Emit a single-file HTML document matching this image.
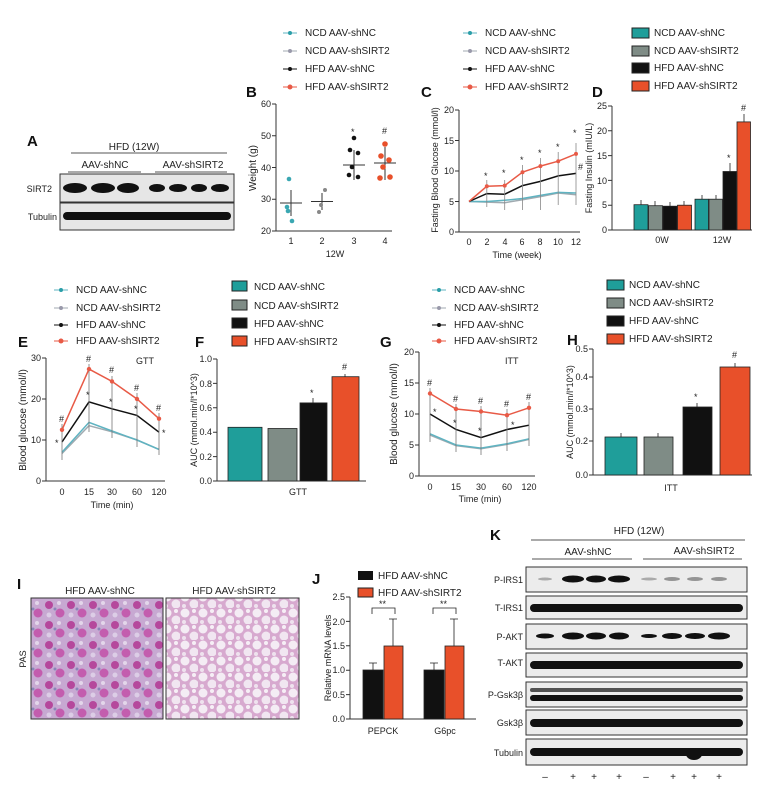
<!DOCTYPE html>
<html><head><meta charset="utf-8"><style>
html,body{margin:0;padding:0;background:#fff}
svg{display:block}
text{font-family:"Liberation Sans",sans-serif;fill:#222}
.t{font-size:10px}
.s{font-size:9px}
.L{font-size:15px;font-weight:bold;fill:#111}
.ax{stroke:#333;stroke-width:1;fill:none}
</style></head><body>
<svg width="764" height="791" viewBox="0 0 764 791" xmlns="http://www.w3.org/2000/svg">
<defs>
<pattern id="hl" width="22" height="20" patternUnits="userSpaceOnUse">
<rect width="22" height="20" fill="#c7a9d2"/>
<circle cx="5" cy="5" r="4" fill="#b0308f" opacity=".8"/><circle cx="16" cy="13" r="4.5" fill="#c24aa5" opacity=".8"/>
<circle cx="15" cy="3" r="2" fill="#e3d6ea"/><circle cx="5" cy="15" r="2.5" fill="#dccde6"/><circle cx="11" cy="9" r="1.5" fill="#8a86b8"/>
</pattern>
<pattern id="hr" width="18" height="16" patternUnits="userSpaceOnUse">
<rect width="18" height="16" fill="#d7a9cf"/>
<circle cx="5" cy="5" r="4.5" fill="#f4ecf4"/><circle cx="14" cy="12" r="4.5" fill="#f1e6f1"/><circle cx="14" cy="3" r="2" fill="#f6eff6"/><circle cx="4" cy="14" r="2" fill="#efe2ee"/>
</pattern>
</defs>

<!-- A -->
<text x="27" y="146" class="L">A</text>
<text x="134" y="150" class="t" text-anchor="middle">HFD (12W)</text>
<line x1="71" y1="153" x2="227" y2="153" stroke="#555"/>
<text x="105" y="168" class="t" text-anchor="middle">AAV-shNC</text>
<text x="193" y="168" class="t" text-anchor="middle">AAV-shSIRT2</text>
<line x1="68" y1="172" x2="141" y2="172" stroke="#555"/><line x1="155" y1="172" x2="227" y2="172" stroke="#555"/>
<rect x="60" y="174" width="174" height="28" fill="#e6e6e6" stroke="#333"/>
<rect x="60" y="203" width="174" height="27" fill="#e6e6e6" stroke="#333"/>
<g fill="#111">
<ellipse cx="75" cy="188" rx="12" ry="5"/><ellipse cx="103" cy="188" rx="12" ry="5"/><ellipse cx="128" cy="188" rx="11" ry="5"/>
<ellipse cx="157" cy="188" rx="8" ry="4"/><ellipse cx="178" cy="188" rx="9" ry="4"/><ellipse cx="199" cy="188" rx="8" ry="4"/><ellipse cx="220" cy="188" rx="9" ry="4"/>
<rect x="63" y="212" width="168" height="8" rx="4"/>
</g>
<text x="52" y="192" class="s" text-anchor="end">SIRT2</text>
<text x="57" y="220" class="s" text-anchor="end">Tubulin</text>

<!-- B legend -->
<text x="246" y="97" class="L">B</text>
<g class="t">
<line x1="283" y1="33" x2="297" y2="33" stroke="#5fb3c1"/><circle cx="290" cy="33" r="2" fill="#2a9ea8"/><text x="305" y="36">NCD AAV-shNC</text>
<line x1="283" y1="51" x2="297" y2="51" stroke="#a0aab0"/><circle cx="290" cy="51" r="2" fill="#99a"/><text x="305" y="54">NCD AAV-shSIRT2</text>
<line x1="283" y1="69" x2="297" y2="69" stroke="#111"/><circle cx="290" cy="69" r="2" fill="#111"/><text x="305" y="72">HFD AAV-shNC</text>
<line x1="283" y1="87" x2="297" y2="87" stroke="#e85a46"/><circle cx="290" cy="87" r="2.5" fill="#e85a46"/><text x="305" y="90">HFD AAV-shSIRT2</text>
</g>
<path class="ax" d="M276,104 V231 M272,104 H276 M272,135.75 H276 M272,167.5 H276 M272,199.25 H276 M272,231 H276 M276,231 H392"/>
<g class="s" text-anchor="end"><text x="271" y="107">60</text><text x="271" y="139">50</text><text x="271" y="171">40</text><text x="271" y="202">30</text><text x="271" y="234">20</text></g>
<text transform="translate(256,168) rotate(-90)" class="t" text-anchor="middle">Weight (g)</text>
<g class="s" text-anchor="middle"><text x="291" y="244">1</text><text x="322" y="244">2</text><text x="354" y="244">3</text><text x="385" y="244">4</text><text x="335" y="257">12W</text></g>
<g stroke="#333"><line x1="280" y1="203" x2="302" y2="203"/><line x1="291" y1="190" x2="291" y2="216"/><line x1="311" y1="201.5" x2="333" y2="201.5"/><line x1="322" y1="193" x2="322" y2="210"/><line x1="343" y1="165" x2="365" y2="165"/><line x1="354" y1="150" x2="354" y2="180"/><line x1="374" y1="163" x2="396" y2="163"/><line x1="385" y1="147" x2="385" y2="180"/></g>
<g fill="#3aa7b2"><circle cx="289" cy="179" r="2.3"/><circle cx="287" cy="207" r="2.3"/><circle cx="292" cy="221" r="2.3"/><circle cx="288" cy="211" r="2.3"/></g>
<g fill="#888"><circle cx="325" cy="190" r="2"/><circle cx="321" cy="205" r="2"/><circle cx="319" cy="212" r="2"/></g>
<g fill="#111"><circle cx="354" cy="138" r="2.3"/><circle cx="350" cy="150" r="2.3"/><circle cx="358" cy="153" r="2.3"/><circle cx="352" cy="167" r="2.3"/><circle cx="349" cy="175" r="2.3"/><circle cx="358" cy="177" r="2.3"/></g>
<g fill="#e8502a"><circle cx="385" cy="144" r="2.8"/><circle cx="381" cy="156" r="2.8"/><circle cx="389" cy="160" r="2.8"/><circle cx="383" cy="167" r="2.8"/><circle cx="380" cy="178" r="2.8"/><circle cx="390" cy="177" r="2.8"/></g>
<text x="351" y="135" class="s">*</text><text x="382" y="134" class="s">#</text>

<!-- C -->
<text x="421" y="97" class="L">C</text>
<g class="t">
<line x1="463" y1="33" x2="477" y2="33" stroke="#5fb3c1"/><circle cx="470" cy="33" r="2" fill="#2a9ea8"/><text x="485" y="36">NCD AAV-shNC</text>
<line x1="463" y1="51" x2="477" y2="51" stroke="#a0aab0"/><circle cx="470" cy="51" r="2" fill="#99a"/><text x="485" y="54">NCD AAV-shSIRT2</text>
<line x1="463" y1="69" x2="477" y2="69" stroke="#111"/><circle cx="470" cy="69" r="2" fill="#111"/><text x="485" y="72">HFD AAV-shNC</text>
<line x1="463" y1="87" x2="477" y2="87" stroke="#e85a46"/><circle cx="470" cy="87" r="2.5" fill="#e85a46"/><text x="485" y="90">HFD AAV-shSIRT2</text>
</g>
<path class="ax" d="M459,110 V232 M455,110 H459 M455,140.5 H459 M455,171 H459 M455,201.5 H459 M455,232 H459 M459,232 H580"/>
<g class="s" text-anchor="end"><text x="454" y="113">20</text><text x="454" y="144">15</text><text x="454" y="174">10</text><text x="454" y="205">5</text><text x="454" y="235">0</text></g>
<text transform="translate(438,170) rotate(-90)" class="s" text-anchor="middle">Fasting Blood Glucose (mmol/l)</text>
<g class="s" text-anchor="middle"><text x="469" y="245">0</text><text x="487" y="245">2</text><text x="505" y="245">4</text><text x="522" y="245">6</text><text x="540" y="245">8</text><text x="558" y="245">10</text><text x="576" y="245">12</text><text x="517" y="258">Time (week)</text></g>
<g fill="none" stroke-width="1.5">
<polyline stroke="#a0aab0" points="469,201.5 486.8,202.1 504.7,202.7 522.5,199.7 540.4,196.6 558.2,193 576,194.8"/>
<polyline stroke="#5fb3c1" points="469,201.5 486.8,201.5 504.7,200.3 522.5,198.5 540.4,195.4 558.2,192.4 576,193"/>
<polyline stroke="#111" points="469,201.5 486.8,193.6 504.7,194.2 522.5,185.6 540.4,181.4 558.2,175.9 576,173.4"/>
<polyline stroke="#e85a46" points="469,201.5 486.8,186.3 504.7,185.6 522.5,172.2 540.4,166.1 558.2,161.2 576,153.9"/>
</g>
<g stroke="#888" stroke-width=".8"><path d="M486.8,180V207 M504.7,180V210 M522.5,165V210 M540.4,158V210 M558.2,152V205 M576,143V205"/></g>
<g fill="#e85a46"><circle cx="486.8" cy="186.3" r="2"/><circle cx="504.7" cy="185.6" r="2"/><circle cx="522.5" cy="172.2" r="2"/><circle cx="540.4" cy="166.1" r="2"/><circle cx="558.2" cy="161.2" r="2"/><circle cx="576" cy="153.9" r="2"/></g>
<g class="s"><text x="484" y="179">*</text><text x="502" y="176">*</text><text x="520" y="163">*</text><text x="538" y="156">*</text><text x="556" y="150">*</text><text x="573" y="136">*</text><text x="578" y="170">#</text></g>

<!-- D -->
<text x="592" y="97" class="L">D</text>
<g class="t">
<rect x="632" y="28" width="17" height="10" fill="#1f9e9a" stroke="#222"/><text x="654" y="36">NCD AAV-shNC</text>
<rect x="632" y="46" width="17" height="10" fill="#7f8c86" stroke="#222"/><text x="654" y="54">NCD AAV-shSIRT2</text>
<rect x="632" y="63" width="17" height="10" fill="#111" stroke="#222"/><text x="654" y="71">HFD AAV-shNC</text>
<rect x="632" y="81" width="17" height="10" fill="#e8502a" stroke="#222"/><text x="654" y="89">HFD AAV-shSIRT2</text>
</g>
<path class="ax" d="M612,106 V230 M608,106 H612 M608,130.8 H612 M608,155.6 H612 M608,180.4 H612 M608,205.2 H612 M608,230 H612 M612,230 H752"/>
<g class="s" text-anchor="end"><text x="607" y="109">25</text><text x="607" y="134">20</text><text x="607" y="159">15</text><text x="607" y="184">10</text><text x="607" y="208">5</text><text x="607" y="233">0</text></g>
<text transform="translate(592,168) rotate(-90)" class="s" text-anchor="middle">Fasting Insulin (mIU/L)</text>
<g stroke="#222" stroke-width=".8">
<rect x="634" y="204.7" width="14" height="25.3" fill="#1f9e9a"/><rect x="648.5" y="205.7" width="14" height="24.3" fill="#7f8c86"/><rect x="663" y="206.2" width="14" height="23.8" fill="#111"/><rect x="677.5" y="205.2" width="14" height="24.8" fill="#e8502a"/>
<rect x="695" y="199.2" width="13.5" height="30.8" fill="#1f9e9a"/><rect x="709" y="199.2" width="13.5" height="30.8" fill="#7f8c86"/><rect x="723" y="171.5" width="13.5" height="58.5" fill="#111"/><rect x="737" y="121.9" width="13.5" height="108.1" fill="#e8502a"/>
<path d="M641,200V205 M655,201V206 M670,202V206 M684,201V205 M702,195V199 M716,195V199 M730,163V172 M744,114V122" fill="none"/>
</g>
<text x="727" y="161" class="s">*</text><text x="741" y="111" class="s">#</text>
<g class="s" text-anchor="middle"><text x="662" y="243">0W</text><text x="722" y="243">12W</text></g>

<!-- E -->
<text x="18" y="347" class="L">E</text>
<g class="t">
<line x1="54" y1="290" x2="68" y2="290" stroke="#5fb3c1"/><circle cx="61" cy="290" r="2" fill="#2a9ea8"/><text x="76" y="293">NCD AAV-shNC</text>
<line x1="54" y1="308" x2="68" y2="308" stroke="#a0aab0"/><circle cx="61" cy="308" r="2" fill="#99a"/><text x="76" y="311">NCD AAV-shSIRT2</text>
<line x1="54" y1="325" x2="68" y2="325" stroke="#111"/><circle cx="61" cy="325" r="2" fill="#111"/><text x="76" y="328">HFD AAV-shNC</text>
<line x1="54" y1="341" x2="68" y2="341" stroke="#e85a46"/><circle cx="61" cy="341" r="2.5" fill="#e85a46"/><text x="76" y="344">HFD AAV-shSIRT2</text>
</g>
<path class="ax" d="M46,358 V481 M42,358 H46 M42,399 H46 M42,440 H46 M42,481 H46 M46,481 H165"/>
<g class="s" text-anchor="end"><text x="41" y="361">30</text><text x="41" y="402">20</text><text x="41" y="443">10</text><text x="41" y="484">0</text></g>
<text transform="translate(26,420) rotate(-90)" class="t" text-anchor="middle">Blood glucose (mmol/l)</text>
<g class="s" text-anchor="middle"><text x="62" y="495">0</text><text x="89" y="495">15</text><text x="112" y="495">30</text><text x="137" y="495">60</text><text x="159" y="495">120</text><text x="112" y="508">Time (min)</text></g>
<text x="136" y="364" class="s">GTT</text>
<g fill="none" stroke-width="1.5">
<polyline stroke="#a0aab0" points="62,453.5 89,425.7 112,431.8 137,440 159,449.4"/>
<polyline stroke="#5fb3c1" points="62,452.3 89,422.4 112,431 137,440 159,449.4"/>
<polyline stroke="#111" points="62,442 89,401.9 112,408.8 137,415.4 159,432.2"/>
<polyline stroke="#e85a46" points="62,429.8 89,369.1 112,381.4 137,399 159,418.7"/>
</g>
<g stroke="#777" stroke-width=".8"><path d="M62,424V460 M89,364V432 M112,376V438 M137,393V447 M159,413V455"/></g>
<g fill="#e85a46"><circle cx="62" cy="429.8" r="2.2"/><circle cx="89" cy="369.1" r="2.2"/><circle cx="112" cy="381.4" r="2.2"/><circle cx="137" cy="399" r="2.2"/><circle cx="159" cy="418.7" r="2.2"/></g>
<g class="s"><text x="59" y="422">#</text><text x="86" y="362">#</text><text x="109" y="373">#</text><text x="134" y="391">#</text><text x="156" y="411">#</text><text x="86" y="398">*</text><text x="109" y="405">*</text><text x="134" y="412">*</text><text x="162" y="436">*</text><text x="55" y="446">*</text></g>

<!-- F -->
<text x="195" y="347" class="L">F</text>
<g class="t">
<rect x="232" y="281" width="15" height="10" fill="#1f9e9a" stroke="#222"/><text x="254" y="290">NCD AAV-shNC</text>
<rect x="232" y="300" width="15" height="10" fill="#7f8c86" stroke="#222"/><text x="254" y="309">NCD AAV-shSIRT2</text>
<rect x="232" y="318" width="15" height="10" fill="#111" stroke="#222"/><text x="254" y="327">HFD AAV-shNC</text>
<rect x="232" y="336" width="15" height="10" fill="#e8502a" stroke="#222"/><text x="254" y="345">HFD AAV-shSIRT2</text>
</g>
<path class="ax" d="M217,359 V481 M213,359 H217 M213,383.4 H217 M213,407.8 H217 M213,432.2 H217 M213,456.6 H217 M213,481 H217 M217,481 H366"/>
<g class="s" text-anchor="end"><text x="212" y="362">1.0</text><text x="212" y="387">0.8</text><text x="212" y="411">0.6</text><text x="212" y="435">0.4</text><text x="212" y="460">0.2</text><text x="212" y="484">0.0</text></g>
<text transform="translate(197,420) rotate(-90)" class="s" text-anchor="middle">AUC (mmol.min/l*10^3)</text>
<g stroke="#222" stroke-width=".8">
<rect x="228" y="427.3" width="34" height="53.7" fill="#1f9e9a"/><rect x="268" y="428.5" width="29" height="52.5" fill="#7f8c86"/><rect x="300" y="402.9" width="27" height="78.1" fill="#111"/><rect x="332" y="376.7" width="27" height="104.3" fill="#e8502a"/>
<path d="M313,398V403 M345,374V377"/>
</g>
<text x="310" y="396" class="s">*</text><text x="342" y="370" class="s">#</text>
<text x="298" y="495" class="s" text-anchor="middle">GTT</text>

<!-- G -->
<text x="380" y="347" class="L">G</text>
<g class="t">
<line x1="432" y1="290" x2="446" y2="290" stroke="#5fb3c1"/><circle cx="439" cy="290" r="2" fill="#2a9ea8"/><text x="454" y="293">NCD AAV-shNC</text>
<line x1="432" y1="308" x2="446" y2="308" stroke="#a0aab0"/><circle cx="439" cy="308" r="2" fill="#99a"/><text x="454" y="311">NCD AAV-shSIRT2</text>
<line x1="432" y1="325" x2="446" y2="325" stroke="#111"/><circle cx="439" cy="325" r="2" fill="#111"/><text x="454" y="328">HFD AAV-shNC</text>
<line x1="432" y1="341" x2="446" y2="341" stroke="#e85a46"/><circle cx="439" cy="341" r="2.5" fill="#e85a46"/><text x="454" y="344">HFD AAV-shSIRT2</text>
</g>
<path class="ax" d="M419,352 V476 M415,352 H419 M415,383 H419 M415,414 H419 M415,445 H419 M415,476 H419 M419,476 H535"/>
<g class="s" text-anchor="end"><text x="414" y="355">20</text><text x="414" y="386">15</text><text x="414" y="417">10</text><text x="414" y="448">5</text><text x="414" y="479">0</text></g>
<text transform="translate(397,414) rotate(-90)" class="t" text-anchor="middle">Blood glucose (mmol/l)</text>
<g class="s" text-anchor="middle"><text x="430" y="490">0</text><text x="456" y="490">15</text><text x="481" y="490">30</text><text x="507" y="490">60</text><text x="529" y="490">120</text><text x="480" y="502">Time (min)</text></g>
<text x="505" y="364" class="s">ITT</text>
<g fill="none" stroke-width="1.5">
<polyline stroke="#a0aab0" points="430,435 456,445.6 481,448.7 507,444.4 529,439.4"/>
<polyline stroke="#5fb3c1" points="430,433.8 456,445 481,448.1 507,443.8 529,438.8"/>
<polyline stroke="#111" points="430,414 456,429.5 481,437.6 507,429.5 529,425.2"/>
<polyline stroke="#e85a46" points="430,393.5 456,409 481,411.5 507,415.2 529,407.8"/>
</g>
<g stroke="#777" stroke-width=".8"><path d="M430,388V442 M456,404V452 M481,406V455 M507,409V451 M529,402V446"/></g>
<g fill="#e85a46"><circle cx="430" cy="393.5" r="2.2"/><circle cx="456" cy="409" r="2.2"/><circle cx="481" cy="411.5" r="2.2"/><circle cx="507" cy="415.2" r="2.2"/><circle cx="529" cy="407.8" r="2.2"/></g>
<g class="s"><text x="427" y="386">#</text><text x="453" y="402">#</text><text x="478" y="404">#</text><text x="504" y="407">#</text><text x="526" y="400">#</text><text x="433" y="415">*</text><text x="453" y="426">*</text><text x="478" y="434">*</text><text x="511" y="428">*</text></g>

<!-- H -->
<text x="567" y="345" class="L">H</text>
<g class="t">
<rect x="607" y="280" width="17" height="10" fill="#1f9e9a" stroke="#222"/><text x="629" y="288">NCD AAV-shNC</text>
<rect x="607" y="298" width="17" height="10" fill="#7f8c86" stroke="#222"/><text x="629" y="306">NCD AAV-shSIRT2</text>
<rect x="607" y="316" width="17" height="10" fill="#111" stroke="#222"/><text x="629" y="324">HFD AAV-shNC</text>
<rect x="607" y="334" width="17" height="10" fill="#e8502a" stroke="#222"/><text x="629" y="342">HFD AAV-shSIRT2</text>
</g>
<path class="ax" d="M593,349 V475 M589,349 H593 M589,377 H593 M589,409 H593 M589,441 H593 M589,475 H593 M593,475 H752"/>
<g class="s" text-anchor="end"><text x="588" y="352">0.5</text><text x="588" y="380">0.4</text><text x="588" y="412">0.3</text><text x="588" y="444">0.2</text><text x="588" y="478">0.0</text></g>
<text transform="translate(573,412) rotate(-90)" class="s" text-anchor="middle">AUC (mmol.min/l*10^3)</text>
<g stroke="#222" stroke-width=".8">
<rect x="605" y="437" width="32" height="38" fill="#1f9e9a"/><rect x="644" y="437" width="29" height="38" fill="#7f8c86"/><rect x="683" y="407" width="29" height="68" fill="#111"/><rect x="720" y="367" width="30" height="108" fill="#e8502a"/>
<path d="M621,433V437 M658,433V437 M697,403V407 M735,363V367"/>
</g>
<text x="694" y="400" class="s">*</text><text x="732" y="358" class="s">#</text>
<text x="671" y="491" class="s" text-anchor="middle">ITT</text>

<!-- I -->
<text x="17" y="589" class="L">I</text>
<text x="100" y="594" class="t" text-anchor="middle">HFD AAV-shNC</text>
<text x="234" y="594" class="t" text-anchor="middle">HFD AAV-shSIRT2</text>
<rect x="31" y="598" width="132" height="121" fill="url(#hl)" stroke="#333"/>
<rect x="166" y="598" width="133" height="121" fill="url(#hr)" stroke="#333"/>
<text transform="translate(26,659) rotate(-90)" class="s" text-anchor="middle">PAS</text>

<!-- J -->
<text x="312" y="584" class="L">J</text>
<g class="t">
<rect x="358" y="571" width="15" height="9" fill="#111"/><text x="378" y="579">HFD AAV-shNC</text>
<rect x="358" y="588" width="15" height="9" fill="#e8502a" stroke="#222"/><text x="378" y="596">HFD AAV-shSIRT2</text>
</g>
<path class="ax" d="M350,597 V719 M346,597 H350 M346,621.4 H350 M346,645.8 H350 M346,670.2 H350 M346,694.6 H350 M346,719 H350 M350,719 H476"/>
<g class="s" text-anchor="end"><text x="345" y="600">2.5</text><text x="345" y="625">2.0</text><text x="345" y="649">1.5</text><text x="345" y="673">1.0</text><text x="345" y="698">0.5</text><text x="345" y="722">0.0</text></g>
<text transform="translate(331,658) rotate(-90)" class="s" text-anchor="middle">Relative mRNA levels</text>
<g stroke="#222" stroke-width=".8">
<rect x="363" y="670" width="20" height="49" fill="#111"/><rect x="384" y="646" width="19" height="73" fill="#e8502a"/>
<rect x="424" y="670" width="20" height="49" fill="#111"/><rect x="445" y="646" width="19" height="73" fill="#e8502a"/>
<path fill="none" d="M373,663V670 M369,663H377 M393,619V646 M389,619H397 M434,663V670 M430,663H438 M454,619V646 M450,619H458 M372,614V608H395V614 M433,614V608H456V614"/>
</g>
<text x="379" y="607" class="s">**</text><text x="440" y="607" class="s">**</text>
<g class="s" text-anchor="middle"><text x="383" y="734">PEPCK</text><text x="445" y="734">G6pc</text></g>

<!-- K -->
<text x="490" y="540" class="L">K</text>
<text x="639" y="534" class="t" text-anchor="middle">HFD (12W)</text>
<line x1="531" y1="540" x2="745" y2="540" stroke="#555"/>
<text x="588" y="555" class="t" text-anchor="middle">AAV-shNC</text>
<text x="704" y="554" class="t" text-anchor="middle">AAV-shSIRT2</text>
<line x1="532" y1="559" x2="632" y2="559" stroke="#555"/><line x1="643" y1="559" x2="742" y2="559" stroke="#555"/>
<g fill="#ececec" stroke="#333">
<rect x="526" y="567" width="221" height="25"/><rect x="526" y="596" width="221" height="23"/><rect x="526" y="624" width="221" height="25"/><rect x="526" y="653" width="221" height="24"/><rect x="526" y="682" width="221" height="25"/><rect x="526" y="710" width="221" height="25"/><rect x="526" y="739" width="221" height="26"/>
</g>
<g fill="#111">
<ellipse cx="545" cy="579" rx="7" ry="1.5" opacity=".3"/><ellipse cx="573" cy="579" rx="11" ry="3.5"/><ellipse cx="596" cy="579" rx="10" ry="3.5"/><ellipse cx="619" cy="579" rx="11" ry="3.5"/>
<ellipse cx="649" cy="579" rx="8" ry="1.5" opacity=".3"/><ellipse cx="672" cy="579" rx="8" ry="2" opacity=".4"/><ellipse cx="695" cy="579" rx="8" ry="2" opacity=".4"/><ellipse cx="719" cy="579" rx="8" ry="2" opacity=".4"/>
<rect x="530" y="604" width="213" height="8" rx="4"/>
<ellipse cx="545" cy="636" rx="9" ry="2.5"/><ellipse cx="573" cy="636" rx="11" ry="3.5"/><ellipse cx="596" cy="636" rx="10" ry="3.5"/><ellipse cx="619" cy="636" rx="10" ry="3.5"/><ellipse cx="649" cy="636" rx="8" ry="2"/><ellipse cx="672" cy="636" rx="10" ry="3"/><ellipse cx="695" cy="636" rx="10" ry="3"/><ellipse cx="719" cy="636" rx="11" ry="3.5"/>
<rect x="530" y="661" width="213" height="8" rx="4"/>
<rect x="530" y="688" width="213" height="4" rx="2" opacity=".7"/><rect x="530" y="695" width="213" height="6" rx="3"/>
<rect x="530" y="719" width="213" height="8" rx="4"/>
<rect x="530" y="748" width="213" height="8" rx="4"/><ellipse cx="694" cy="754" rx="8" ry="6"/>
</g>
<g class="s" text-anchor="end"><text x="523" y="583">P-IRS1</text><text x="523" y="611">T-IRS1</text><text x="523" y="640">P-AKT</text><text x="523" y="666">T-AKT</text><text x="523" y="698">P-Gsk3β</text><text x="523" y="726">Gsk3β</text><text x="523" y="756">Tubulin</text></g>
<g class="t" text-anchor="middle"><text x="545" y="780">–</text><text x="573" y="780">+</text><text x="594" y="780">+</text><text x="619" y="780">+</text><text x="646" y="780">–</text><text x="673" y="780">+</text><text x="694" y="780">+</text><text x="719" y="780">+</text></g>
</svg>
</body></html>
